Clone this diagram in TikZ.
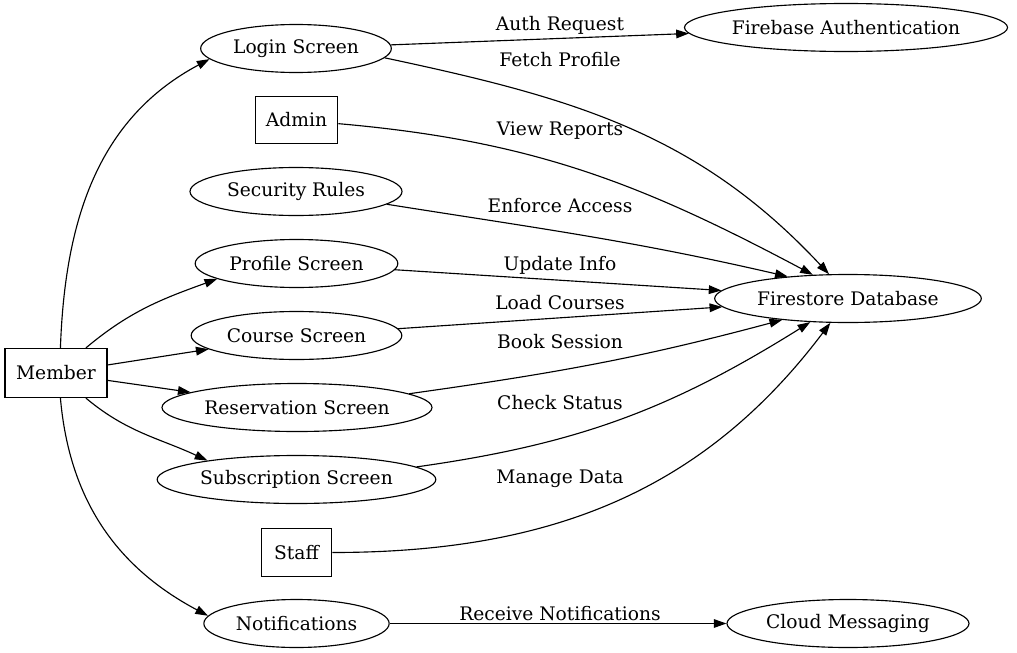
\documentclass[tikz,border=0pt]{standalone}
\usepackage{fontspec}
\setmainfont{DejaVu Serif}
\usepackage{tikz}
\usetikzlibrary{shapes.geometric, arrows.meta}
\tikzstyle{oval} = [draw, ellipse, minimum height=36pt, inner sep=0pt]
\tikzstyle{box} = [draw, rectangle, minimum height=36pt, inner sep=0pt]
\tikzstyle{arrow} = [-{Triangle[length=9.5pt,width=6.5pt]}]
\tikzstyle{lbl} = [inner sep=0pt]

\begin{document}
\begin{tikzpicture}[x=0.75pt, y=0.75pt, line width=0.85pt, font=\fontsize{14}{16}\selectfont]
    \useasboundingbox (0,0) rectangle (1017,-653);

    % actors
    \node[box, minimum width=76.5pt, minimum height=36.75pt] (member) at (56,-373) {Member};
    \node[box, minimum width=62pt, minimum height=35pt] (admin) at (296.5,-120) {Admin};
    \node[box, minimum width=53pt] (staff) at (296.5,-552.5) {Staff};

    % screens
    \node[oval, minimum width=143pt] (login) at (296,-48.5) {Login Screen};
    \node[oval, minimum width=159pt] (security) at (296,-191.5) {Security Rules};
    \node[oval, minimum width=152pt] (profile) at (296.5,-263.5) {Profile Screen};
    \node[oval, minimum width=158pt] (course) at (296.5,-335.5) {Course Screen};
    \node[oval, minimum width=202.5pt] (reservation) at (297,-407.5) {Reservation Screen};
    \node[oval, minimum width=209pt] (subscription) at (296.5,-479.5) {Subscription Screen};
    \node[oval, minimum width=139pt] (notif) at (296.5,-623.5) {Notifications};

    % services
    \node[oval, minimum width=240pt] (fbauth) at (846,-27.5) {Firebase Authentication};
    \node[oval, minimum width=200pt] (firestore) at (848,-298.5) {Firestore Database};
    \node[oval, minimum width=181.5pt] (fcm) at (848,-623.5) {Cloud Messaging};

    % member edges
    \draw[arrow] (member.80) to[out=88,in=208] (login.187);
    \draw[arrow] (member.40) to[out=40,in=200] (profile.191);
    \draw[arrow] (member) -- (course);
    \draw[arrow] (member) -- (reservation);
    \draw[arrow] (member.-40) to[out=-40,in=155] (subscription.168);
    \draw[arrow] (member.-80) to[out=-85,in=152] (notif.175);

    % data flows
    \draw[arrow] (login) -- (fbauth);
    \draw[arrow] (login.-6) to[out=-12,in=133] (firestore.128);
    \draw[arrow] (admin.-5) to[out=-5,in=152] (firestore.146);
    \draw[arrow] (security.-8) to[out=-9,in=167] (firestore.160);
    \draw[arrow] (profile) -- (firestore);
    \draw[arrow] (course) -- (firestore);
    \draw[arrow] (reservation.7) to[out=8,in=195] (firestore.198);
    \draw[arrow] (subscription.6) to[out=8,in=212] (firestore.212);
    \draw[arrow] (staff.east) to[out=0,in=233] (firestore.234);
    \draw[arrow] (notif) -- (fcm);

    % labels
    \node[lbl] (l1) at (560,-25.5) {Auth Request};
    \node[lbl] (l2) at (560,-59.5) {Fetch Profile};
    \node[lbl] (l3) at (560,-130.5) {View Reports};
    \node[lbl] (l4) at (560,-205.5) {Enforce Access};
    \node[lbl] (l5) at (560,-265.5) {Update Info};
    \node[lbl] (l6) at (560,-302.5) {Load Courses};
    \node[lbl] (l7) at (560,-341.5) {Book Session};
    \node[lbl] (l8) at (560,-402.5) {Check Status};
    \node[lbl] (l9) at (560,-478.5) {Manage Data};
    \node[lbl] (l10) at (560,-613.5) {Receive Notifications};
\end{tikzpicture}
\end{document}
